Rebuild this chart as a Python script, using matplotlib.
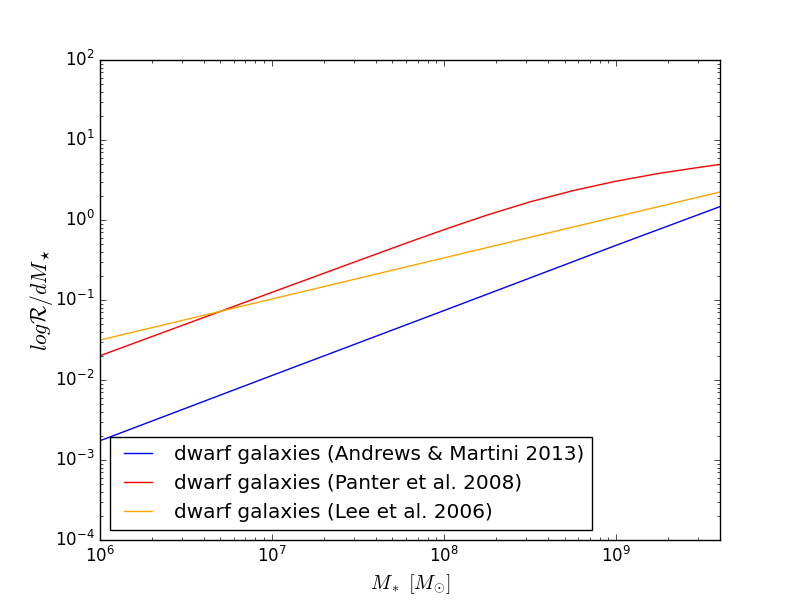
import matplotlib
matplotlib.use('Agg')
import matplotlib.pyplot as plt

plt.style.use('classic')

# stellar mass grid for the straight relations
mass_lin = [1e6, 1e7, 1e8, 1e9, 4e9]
andrews = [1.74e-3, 1.14e-2, 7.4e-2, 0.484, 1.47]
lee = [0.0316, 0.103, 0.337, 1.10, 2.24]

mass_pan = [1e6, 1.78e6, 3.16e6, 5.62e6, 1e7, 1.78e7, 3.16e7, 5.62e7,
            1e8, 1.78e8, 3.16e8, 5.62e8, 1e9, 1.78e9, 3.16e9, 4e9]
panter = [0.0201, 0.0318, 0.0501, 0.0791, 0.125, 0.197, 0.310, 0.488,
          0.759, 1.156, 1.690, 2.333, 3.062, 3.837, 4.613, 4.943]

fig = plt.figure(figsize=(8, 6), dpi=100, facecolor='white')
ax = fig.add_subplot(111)

ax.plot(mass_lin, andrews, color='b', label="dwarf galaxies (Andrews & Martini 2013)")
ax.plot(mass_pan, panter, color='r', label="dwarf galaxies (Panter et al. 2008)")
ax.plot(mass_lin, lee, color='orange', label="dwarf galaxies (Lee et al. 2006)")

ax.set_xscale('log')
ax.set_yscale('log')
ax.set_xlim(1e6, 4e9)
ax.set_ylim(1e-4, 1e2)
ax.set_xlabel(r'$M_*\ [M_{\odot}]$', fontsize=14.4)
ax.set_ylabel(r'$log\mathcal{R}/dM_\star$', fontsize=15.5, labelpad=0)
ax.legend(loc='lower left', fontsize=14.4)

plt.savefig('out.png', dpi=100, facecolor='white')
